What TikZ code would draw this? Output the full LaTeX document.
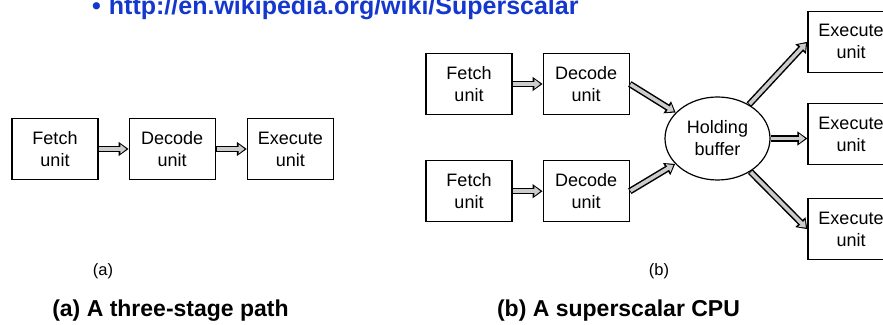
\documentclass[tikz,border=0pt]{standalone}
\usepackage{fontspec}
\setmainfont{Liberation Sans}
\usepackage{tikz}
\usetikzlibrary{shapes.geometric, arrows.meta, positioning}
\definecolor{linkblue}{RGB}{20,55,205}

\begin{document}
\begin{tikzpicture}[x=1pt, y=1pt,
    unit/.style={rectangle, minimum width=86pt, minimum height=61pt, align=center,
                 draw=black, line width=1.2pt, font=\fontsize{18}{22}\selectfont},
    buffer/.style={ellipse, minimum width=105pt, minimum height=83pt, inner sep=0pt, align=center,
                   draw=black, line width=1.2pt, font=\fontsize{18}{22}\selectfont},
    sublabel/.style={font=\fontsize{16.5}{20}\selectfont},
    caption/.style={anchor=base, inner sep=0pt, font=\fontsize{23}{27}\selectfont\bfseries},
    flow/.style={draw=gray!40, line width=3.6pt, shorten >=2.2pt, shorten <=0.8pt,
                 -{Triangle[length=6pt, width=9pt]},
                 preaction={draw=black, line width=6.6pt, shorten >=0pt, shorten <=0pt,
                            -{Triangle[length=10pt, width=13.5pt]}}}]

    \useasboundingbox (0,0) rectangle (883,324);
    \clip (0,0) rectangle (883,324);

    % Link at the top (cut off by the page)
    \node[anchor=base west, inner sep=0pt, text=linkblue, font=\fontsize{25}{30}\selectfont\bfseries]
        (link) at (92,309) {\textbullet\hspace{8pt}http://en.wikipedia.org/wiki/Superscalar};

    % (a) three-stage path
    \node[unit] (fa) at (55,175) {Fetch\\unit};
    \node[unit, right=30pt of fa] (da) {Decode\\unit};
    \node[unit, right=31pt of da] (ea) {Execute\\unit};

    % (b) superscalar CPU
    \node[unit] (ft) at (469,240) {Fetch\\unit};
    \node[unit, right=30pt of ft] (dt) {Decode\\unit};
    \node[unit, below=45pt of ft] (fb) {Fetch\\unit};
    \node[unit, right=30pt of fb] (db) {Decode\\unit};
    \node[buffer] (hb) at (717.5,185.5) {Holding\\buffer};
    \node[unit] (em) at (851,190) {Execute\\unit};
    \node[unit, above=30pt of em] (et) {Execute\\unit};
    \node[unit, below=33pt of em] (eb) {Execute\\unit};

    % Labels
    \node[sublabel] (la) at (103,53) {(a)};
    \node[sublabel] (lb) at (659,53) {(b)};
    \node[caption] (ca) at (170.5,8) {(a) A three-stage path};
    \node[caption] (cb) at (618.5,8) {(b) A superscalar CPU};

    % Arrows
    \draw[flow] (fa) -- (da);
    \draw[flow] (da) -- (ea);
    \draw[flow] (ft) -- (dt);
    \draw[flow] (fb) -- (db);
    \draw[flow] (dt.east) -- (hb);
    \draw[flow] (db.east) -- (hb);
    \draw[flow] (hb) -- (et.west);
    \draw[flow] (hb.east) -- (hb.east -| em.west);
    \draw[flow] (hb) -- (eb.west);

\end{tikzpicture}
\end{document}
